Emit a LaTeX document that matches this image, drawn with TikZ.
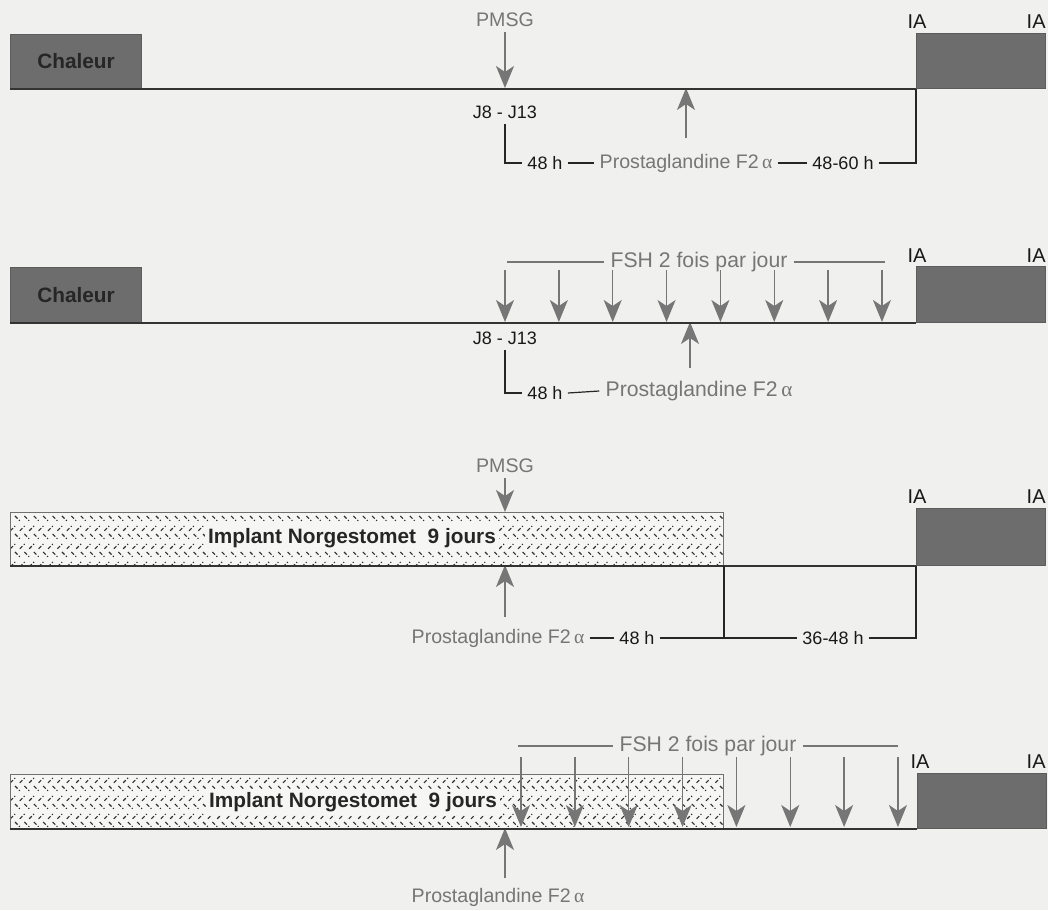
\documentclass[tikz,border=0pt]{standalone}
\usepackage{fontspec}
\setmainfont{Liberation Sans}
\newfontfamily\greekfont{Liberation Serif}
\usetikzlibrary{arrows.meta,patterns}
\definecolor{PaperBg}{HTML}{F0F0EE}
\definecolor{DoseGray}{HTML}{767676}
\definecolor{BoxDark}{HTML}{6D6D6D}
\definecolor{LineDark}{HTML}{333333}
\definecolor{HatchInk}{HTML}{2E2E2E}
\definecolor{ImplantBg}{HTML}{F6F6F4}

% short alternating strokes of the implant bar
\pgfdeclarepatternformonly{implanthatch}{\pgfqpoint{-1pt}{-1pt}}{\pgfqpoint{6pt}{10pt}}{\pgfqpoint{4.7pt}{9pt}}{%
  \pgfsetlinewidth{0.55pt}
  \pgfpathmoveto{\pgfqpoint{0.5pt}{0.6pt}}\pgfpathlineto{\pgfqpoint{1.8pt}{1.9pt}}
  \pgfpathmoveto{\pgfqpoint{2.5pt}{2.6pt}}\pgfpathlineto{\pgfqpoint{2.9pt}{3.0pt}}
  \pgfpathmoveto{\pgfqpoint{2.8pt}{8.0pt}}\pgfpathlineto{\pgfqpoint{4.1pt}{6.7pt}}
  \pgfpathmoveto{\pgfqpoint{4.8pt}{6.0pt}}\pgfpathlineto{\pgfqpoint{5.2pt}{5.6pt}}
  \pgfusepath{stroke}}

\tikzset{
  heatbox/.style={draw=LineDark!80, fill=BoxDark, line width=0.5pt,
    anchor=north west, inner sep=0pt, text=black!85,
    font=\bfseries\fontsize{10.4}{12}\selectfont},
  iabox/.style={draw=LineDark!80, fill=BoxDark, line width=0.5pt,
    anchor=north west, inner sep=0pt, minimum width=64.5pt},
  implant/.style={draw=LineDark!70, line width=0.5pt,
    preaction={fill=ImplantBg}, pattern=implanthatch, pattern color=HatchInk,
    anchor=north west, inner sep=0pt, minimum width=356.5pt},
  implanttxt/.style={fill=ImplantBg, inner sep=1.5pt, text=black!85,
    font=\bfseries\fontsize{10.4}{12}\selectfont},
  axis/.style={draw=LineDark, line width=0.9pt},
  bracket/.style={draw=black!85, line width=0.6pt},
  fshline/.style={draw=DoseGray, line width=0.6pt},
  dose/.style={draw=DoseGray, line width=0.75pt,
    -{Stealth[length=11pt,width=9pt,inset=3pt]}},
  lbl/.style={text=DoseGray, inner sep=2.5pt, font=\fontsize{9.8}{11}\selectfont},
  fsh/.style={text=DoseGray, inner sep=3pt, font=\fontsize{10.6}{12}\selectfont},
  tag/.style={text=black!90, inner sep=2.5pt, font=\fontsize{9}{11}\selectfont},
  ia/.style={text=black!90, inner sep=1pt, font=\fontsize{10}{12}\selectfont}
}

\begin{document}
\begin{tikzpicture}[x=0.5pt,y=-0.5pt]
\useasboundingbox[fill=PaperBg] (0,0) rectangle (1048,910);

% ---------- Chaleur + PMSG
\node[heatbox, minimum width=65.5pt, minimum height=27pt] (chal1) at (10,34) {Chaleur};
\node[iabox, minimum height=27.5pt] (ins1) at (916,33) {};
\node[ia] (ia1a) at (917,22) {IA};
\node[ia, anchor=east] (ia1b) at (1048,22) {IA};
\coordinate (b1) at (0,88);
\node[lbl] (pmsg1) at (505,20) {PMSG};
\draw[dose] (pmsg1.south) -- (pmsg1 |- b1);
\node[tag] (jr1) at (505,112) {J8 - J13};
\node[tag] (h1a) at (545,163) {48 h};
\node[lbl] (pg1) at (686,163) {Prostaglandine F2\,{\greekfont α}};
\node[tag] (h1b) at (843,163) {48-60 h};
\coordinate (up1) at (686,138);
\draw[dose] (up1) -- (up1 |- b1);
\draw[axis] (chal1.south west) -- (ins1.south west);
\draw[bracket] (jr1.south) |- (h1a.west);
\draw[bracket] (h1a.east) -- (pg1.west);
\draw[bracket] (pg1.east) -- (h1b.west);
\draw[bracket] (h1b.east) -| (ins1.south west);

% ---------- Chaleur + FSH
\node[heatbox, minimum width=65.5pt, minimum height=27.5pt] (chal2) at (10,267) {Chaleur};
\node[iabox, minimum height=28pt] (ins2) at (916,266) {};
\node[ia] (ia2a) at (917,256) {IA};
\node[ia, anchor=east] (ia2b) at (1048,256) {IA};
\coordinate (b2) at (0,322);
\node[fsh] (fsh2) at (699,262) {FSH 2 fois par jour};
\draw[fshline] (507,262) -- (fsh2.west);
\draw[fshline] (fsh2.east) -- (885,262);
\foreach \k in {0,...,7}
  \draw[dose] (505+53.85*\k,270) -- (505+53.85*\k,322);
\node[tag] (jr2) at (505,338) {J8 - J13};
\node[tag] (h2) at (545,393) {48 h};
\node[fsh] (pg2) at (699,391) {Prostaglandine F2\,{\greekfont α}};
\coordinate (up2) at (690,368);
\draw[dose] (up2) -- (up2 |- b2);
\draw[axis] (chal2.south west) -- (ins2.south west);
\draw[bracket] (jr2.south) |- (h2.west);
\draw[bracket] (h2.east) -- (pg2.west);

% ---------- implant + PMSG
\node[implant, minimum height=26.5pt] (imp3) at (10,512) {};
\node[implanttxt] (imptxt3) at (352,538) {Implant Norgestomet\ \ 9 jours};
\node[iabox, minimum height=28.5pt] (ins3) at (916,508) {};
\node[ia] (ia3a) at (917,497) {IA};
\node[ia, anchor=east] (ia3b) at (1048,497) {IA};
\coordinate (b3) at (0,565);
\coordinate (top3) at (0,512);
\node[lbl] (pmsg3) at (505,466) {PMSG};
\draw[dose] (pmsg3.south) -- (pmsg3 |- top3);
\node[lbl] (pg3) at (498,638) {Prostaglandine F2\,{\greekfont α}};
\node[tag] (h3a) at (637,638) {48 h};
\node[tag] (h3b) at (833,638) {36-48 h};
\coordinate (up3) at (505,617);
\draw[dose] (up3) -- (up3 |- b3);
\draw[axis] (imp3.south west) -- (ins3.south west);
\draw[bracket] (pg3.east) -- (h3a.west);
\draw[bracket] (h3a.east) -- (h3b.west);
\draw[bracket] (imp3.south east) -- (imp3.south east |- h3a);
\draw[bracket] (h3b.east) -| (ins3.south west);

% ---------- implant + FSH
\node[implant, minimum height=27pt] (imp4) at (10,774) {};
\node[implanttxt] (imptxt4) at (353,802) {Implant Norgestomet\ \ 9 jours};
\node[iabox, minimum height=27.5pt] (ins4) at (917,773) {};
\node[ia] (ia4a) at (920,762) {IA};
\node[ia, anchor=east] (ia4b) at (1048,762) {IA};
\coordinate (b4) at (0,828);
\node[fsh] (fsh4) at (708,746) {FSH 2 fois par jour};
\draw[fshline] (518,746) -- (fsh4.west);
\draw[fshline] (fsh4.east) -- (898,746);
\foreach \k in {0,...,7}
  \draw[dose] (521+53.85*\k,757) -- (521+53.85*\k,827);
\node[lbl] (pg4) at (498,897) {Prostaglandine F2\,{\greekfont α}};
\coordinate (up4) at (505,878);
\draw[dose] (up4) -- (up4 |- b4);
\draw[axis] (imp4.south west) -- (ins4.south west);
\end{tikzpicture}
\end{document}
